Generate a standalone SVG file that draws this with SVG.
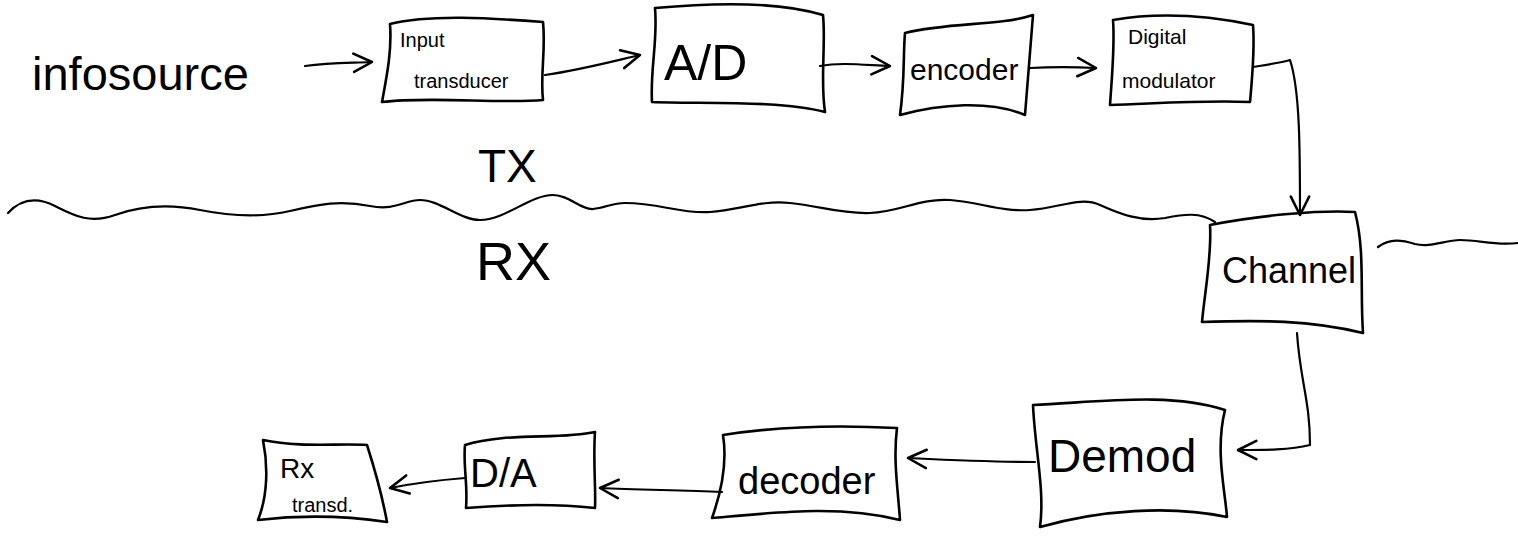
<svg xmlns="http://www.w3.org/2000/svg" width="1518" height="538" viewBox="0 0 1518 538">
<style>
.box{fill:#fff;stroke:#000;stroke-width:2.6;stroke-linejoin:round;stroke-linecap:round}
.ln{fill:none;stroke:#000;stroke-width:2.2;stroke-linecap:round;stroke-linejoin:round}
.t{font-family:"Liberation Sans","DejaVu Sans",sans-serif;fill:#000}
</style>
<defs>
<marker id="ahb" viewBox="0 0 12 12" refX="11" refY="6" markerWidth="22" markerHeight="22" markerUnits="userSpaceOnUse" orient="auto">
<path d="M1,1 L11,6 L1,11" fill="none" stroke="#000" stroke-width="1.4" stroke-linecap="round" stroke-linejoin="round"/>
</marker>
</defs>

<g id="divider">
<path class="ln" d="M8,213 C20,200 35,196 55,206 C75,216 90,224 115,215 C140,206 170,204 200,210 C230,216 260,218 290,211 C320,204 340,200 370,206 C395,211 405,200 420,200 C440,200 460,220 480,220 C505,220 530,195 553,195 C570,195 580,210 593,209 C605,208 612,203 625,203 C660,203 680,214 710,212 C740,210 760,200 790,203 C820,206 840,214 870,213 C900,212 920,198 950,200 C980,202 1000,212 1030,210 C1060,208 1080,196 1100,205 C1120,214 1140,222 1165,218 C1185,214 1200,212 1215,222"/>
<path class="ln" d="M1378,247 C1390,238 1402,240 1415,244 C1430,248 1445,240 1460,240 C1480,240 1495,246 1518,243"/>
<text class="t" x="478" y="182" font-size="46">TX</text>
<text class="t" x="476" y="280" font-size="54">RX</text>
</g>

<g id="infosource">
<text class="t" x="32" y="90" font-size="47">infosource</text>
</g>

<g id="input-transducer">
<path class="box" d="M390,24 C430,14 490,18 543,22 C546,50 540,75 543,100 C500,104 430,96 382,102 C387,75 392,50 390,24 Z"/>
<text class="t" x="400" y="47" font-size="20">Input</text>
<text class="t" x="414" y="88" font-size="20">transducer</text>
</g>

<g id="ad">
<path class="box" d="M655,8 C720,2 780,2 823,15 C826,45 820,80 825,112 C780,100 700,104 652,102 C650,70 658,40 655,8 Z"/>
<text class="t" x="664" y="80" font-size="50">A/D</text>
</g>

<g id="encoder">
<path class="box" d="M905,33 C950,22 1000,26 1033,15 C1030,50 1028,80 1025,115 C990,100 940,104 900,115 C905,80 903,55 905,33 Z"/>
<text class="t" x="910" y="80" font-size="30">encoder</text>
</g>

<g id="digital-modulator">
<path class="box" d="M1113,20 C1160,12 1210,16 1253,25 C1255,50 1252,80 1250,102 C1200,100 1150,104 1110,105 C1112,75 1115,45 1113,20 Z"/>
<text class="t" x="1128" y="44" font-size="21">Digital</text>
<text class="t" x="1122" y="88" font-size="21">modulator</text>
</g>

<g id="channel">
<path class="box" d="M1210,225 C1260,215 1320,210 1355,212 C1365,250 1360,290 1363,333 C1310,320 1260,320 1202,322 C1205,290 1212,255 1210,225 Z"/>
<text class="t" x="1222" y="283" font-size="36">Channel</text>
</g>

<g id="demod">
<path class="box" d="M1033,405 C1100,402 1170,392 1225,410 C1215,450 1225,490 1227,517 C1170,505 1100,510 1040,527 C1045,490 1035,450 1033,405 Z"/>
<text class="t" x="1048" y="472" font-size="46">Demod</text>
</g>

<g id="decoder">
<path class="box" d="M723,435 C780,426 840,425 897,428 C893,460 898,490 900,520 C840,505 780,512 712,518 C722,490 727,460 723,435 Z"/>
<text class="t" x="738" y="494" font-size="38">decoder</text>
</g>

<g id="da">
<path class="box" d="M465,445 C505,432 560,440 595,432 C593,460 596,490 595,508 C550,503 505,505 466,508 C468,485 463,465 465,445 Z"/>
<text class="t" x="470" y="487" font-size="40">D/A</text>
</g>

<g id="rx-transd">
<path class="box" d="M263,440 C300,448 340,443 367,445 C375,470 382,495 387,522 C340,515 300,515 258,520 C268,495 268,465 263,440 Z"/>
<text class="t" x="280" y="478" font-size="28">Rx</text>
<text class="t" x="292" y="512" font-size="20">transd.</text>
</g>

<g id="connectors">
<path class="ln" d="M305,66 C330,62 350,63 372,62" marker-end="url(#ahb)"/>
<path class="ln" d="M545,75 C580,70 610,62 640,55" marker-end="url(#ahb)"/>
<path class="ln" d="M820,66 C840,62 865,65 890,66" marker-end="url(#ahb)"/>
<path class="ln" d="M1030,68 C1050,67 1075,67 1096,68" marker-end="url(#ahb)"/>
<path class="ln" d="M1253,67 C1265,65 1280,63 1290,60 C1300,90 1300,150 1300,215" marker-end="url(#ahb)"/>
<path class="ln" d="M1297,333 C1300,380 1310,400 1310,445 C1290,450 1265,450 1238,450" marker-end="url(#ahb)"/>
<path class="ln" d="M1035,462 C990,462 950,460 908,458" marker-end="url(#ahb)"/>
<path class="ln" d="M722,492 C680,490 640,490 600,488" marker-end="url(#ahb)"/>
<path class="ln" d="M465,478 C440,480 415,483 390,488" marker-end="url(#ahb)"/>
</g>
</svg>
